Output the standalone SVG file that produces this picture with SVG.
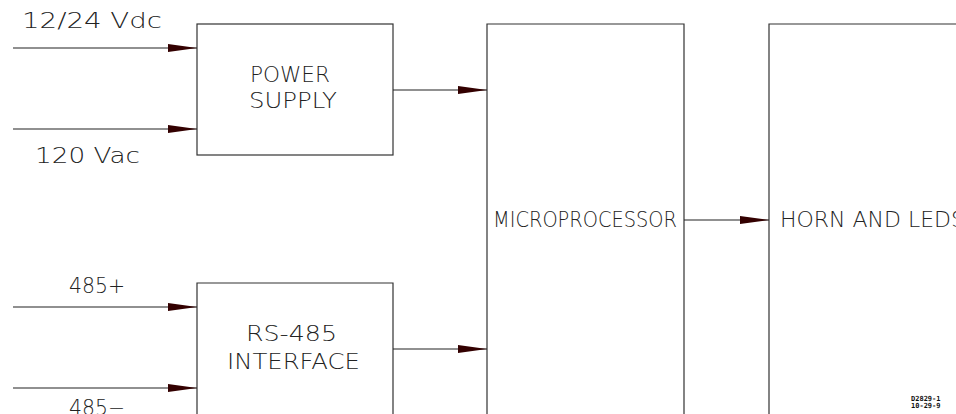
<svg xmlns="http://www.w3.org/2000/svg" width="956" height="414" viewBox="0 0 956 414">
<style>
.box{fill:none;stroke:#333;stroke-width:1.2}
.ln{fill:none;stroke:#222;stroke-width:1.2}
.t{font-family:"DejaVu Sans","Liberation Sans",sans-serif;font-weight:200;font-size:22px;fill:#222}
.s{font-family:"DejaVu Sans Mono","Liberation Mono",monospace;font-size:7px;font-weight:bold;fill:#111}
</style>
<defs>
<marker id="ah" markerUnits="userSpaceOnUse" markerWidth="30" markerHeight="10" refX="29" refY="4" orient="auto">
<path d="M0,0 L29,4 L0,8 Z" fill="#300"/>
</marker>
</defs>
<rect width="956" height="414" fill="#fff"/>
<g id="labels">
<text class="t" x="22" y="28" textLength="140" lengthAdjust="spacingAndGlyphs">12/24 Vdc</text>
<text class="t" x="35" y="163" textLength="105" lengthAdjust="spacingAndGlyphs">120 Vac</text>
<text class="t" x="69" y="293" textLength="56" lengthAdjust="spacingAndGlyphs">485+</text>
<text class="t" x="69" y="415" textLength="56" lengthAdjust="spacingAndGlyphs">485−</text>
</g>
<g id="power-supply">
<rect class="box" x="197" y="24" width="196" height="131"/>
<text class="t" x="250" y="82" textLength="80" lengthAdjust="spacingAndGlyphs">POWER</text>
<text class="t" x="249" y="108" textLength="88" lengthAdjust="spacingAndGlyphs">SUPPLY</text>
</g>
<g id="rs485-interface">
<path class="box" d="M197,420 V283 H393 V420"/>
<text class="t" x="246" y="341" textLength="91" lengthAdjust="spacingAndGlyphs">RS-485</text>
<text class="t" x="227" y="369" textLength="133" lengthAdjust="spacingAndGlyphs">INTERFACE</text>
</g>
<g id="microprocessor">
<path class="box" d="M487,420 V24 H684 V420"/>
<text class="t" x="493" y="227" textLength="184" lengthAdjust="spacingAndGlyphs">MICROPROCESSOR</text>
</g>
<g id="horn-and-leds">
<path class="box" d="M769,420 V24 H960"/>
<text class="t" x="780" y="227" textLength="185" lengthAdjust="spacingAndGlyphs">HORN AND LEDS</text>
</g>
<g id="connectors">
<line class="ln" x1="13" y1="48" x2="197" y2="48" marker-end="url(#ah)"/>
<line class="ln" x1="13" y1="129" x2="197" y2="129" marker-end="url(#ah)"/>
<line class="ln" x1="13" y1="307" x2="197" y2="307" marker-end="url(#ah)"/>
<line class="ln" x1="13" y1="388" x2="197" y2="388" marker-end="url(#ah)"/>
<line class="ln" x1="393" y1="90" x2="487" y2="90" marker-end="url(#ah)"/>
<line class="ln" x1="393" y1="349" x2="487" y2="349" marker-end="url(#ah)"/>
<line class="ln" x1="684" y1="220" x2="769" y2="220" marker-end="url(#ah)"/>
</g>
<g id="drawing-number">
<text class="s" x="911" y="401">D2829-1</text>
<text class="s" x="911" y="408">10-29-9</text>
</g>
</svg>
